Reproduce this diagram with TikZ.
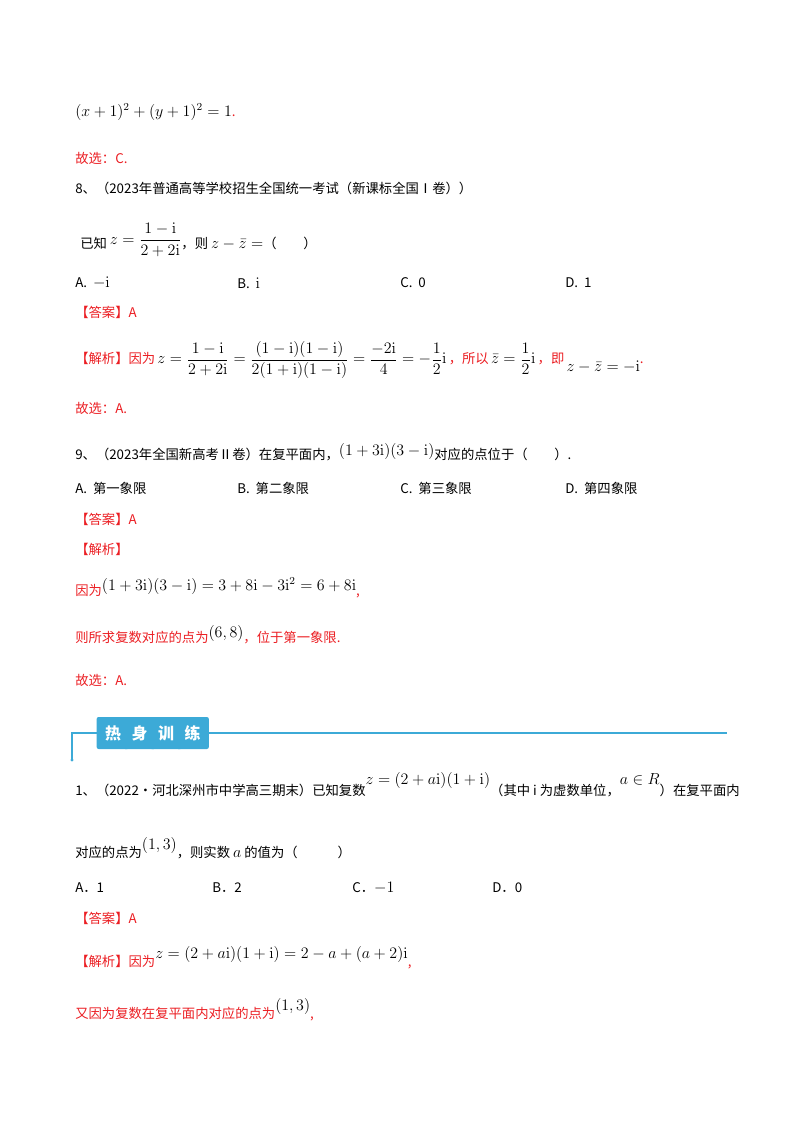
\documentclass[tikz,border=0pt]{standalone}
\usepackage[no-math]{fontspec}
\setmainfont{Noto Sans CJK SC}
\usepackage{amsmath}
\definecolor{rd}{RGB}{235,30,35}
\definecolor{bl}{RGB}{60,170,215}
\newcommand{\mm}[1]{{\fontsize{12}{14}\selectfont$#1$}}
\tikzset{t/.style={anchor=west,inner sep=0pt,font=\fontsize{10}{12}\selectfont},r/.style={t,text=rd}}
\begin{document}
\begin{tikzpicture}[x=0.75pt,y=-0.75pt]
\useasboundingbox (0,0) rectangle (800,1132);
\node[t] (l1) at (75,112) {\mm{(x+1)^2+(y+1)^2=1}\textcolor{rd}{.}};
\node[r] (l2) at (75,158) {故选：C.};
\node[t] (l3) at (75,188) {8、（2023年普通高等学校招生全国统一考试（新课标全国Ⅰ卷））};
\node[t] (l4) at (80,240) {已知\ \raisebox{3pt}{\mm{z=\dfrac{1-\mathrm{i}}{2+2\mathrm{i}}}}，则 \mm{z-\bar z=}（\quad\quad）};
\node[t] (a1) at (75,283) {A.\ \ \mm{-\mathrm{i}}};
\node[t] (b1) at (237,283) {B.\ \ \mm{\mathrm{i}}};
\node[t] (c1) at (400,283) {C.\ \ 0};
\node[t] (d1) at (565,283) {D.\ \ 1};
\node[r] (an1) at (75,312) {【答案】A};
\node[r] (j1) at (75,360) {【解析】因为\,\textcolor{black}{\mm{z=\dfrac{1-\mathrm{i}}{2+2\mathrm{i}}=\dfrac{(1-\mathrm{i})(1-\mathrm{i})}{2(1+\mathrm{i})(1-\mathrm{i})}=\dfrac{-2\mathrm{i}}{4}=-\dfrac{1}{2}\mathrm{i}}}\,，所以\,\textcolor{black}{\mm{\bar z=\dfrac12\mathrm{i}}}\,，即\,\textcolor{black}{\raisebox{-6pt}{\mm{z-\bar z=-\mathrm{i}}}}.};
\node[r] (g1) at (75,408) {故选：A.};
\node[t] (l9) at (75,452) {9、（2023年全国新高考Ⅱ卷）在复平面内，\raisebox{3pt}{\mm{(1+3\mathrm{i})(3-\mathrm{i})}}对应的点位于（\quad\quad）.};
\node[t] (a2) at (75,488) {A.\ \ 第一象限};
\node[t] (b2) at (237,488) {B.\ \ 第二象限};
\node[t] (c2) at (400,488) {C.\ \ 第三象限};
\node[t] (d2) at (565,488) {D.\ \ 第四象限};
\node[r] (an2) at (75,519) {【答案】A};
\node[r] (j2) at (75,549) {【解析】};
\node[r] (k2) at (75,588) {因为\textcolor{black}{\raisebox{4pt}{\mm{(1+3\mathrm{i})(3-\mathrm{i})=3+8\mathrm{i}-3\mathrm{i}^2=6+8\mathrm{i}}}},};
\node[r] (k3) at (75,635) {则所求复数对应的点为\textcolor{black}{\raisebox{4pt}{\mm{(6,8)}}}，位于第一象限.};
\node[r] (g2) at (75,680) {故选：A.};
% banner
\draw[bl,line width=0.8pt] (72,760) -- (72,733) -- (727,733);
\fill[bl] (72,760) circle (1.6);
\foreach \i/\c in {0/热,1/身,2/训,3/练}{
  \node[fill=bl,text=white,minimum width=24.5,minimum height=24,inner sep=0pt,font=\fontsize{12}{12}\selectfont\bfseries,rounded corners=1.5] (h\i) at (113+\i*26.5,733) {\c};
}
\node[t] (q1) at (75,785) {1、（2022·河北深州市中学高三期末）已知复数\raisebox{8pt}{\mm{z=(2+a\mathrm{i})(1+\mathrm{i})}}（其中 i 为虚数单位，\raisebox{8pt}{\mm{a\in R}}）在复平面内};
\node[t] (q2) at (75,848) {对应的点为\raisebox{6pt}{\mm{(1,3)}}，则实数 \mm{a} 的值为（\qquad\quad）};
\node[t] (a3) at (75,888) {A．1};
\node[t] (b3) at (212,888) {B．2};
\node[t] (c3) at (352,888) {C．\mm{-1}};
\node[t] (d3) at (492,888) {D．0};
\node[r] (an3) at (75,918) {【答案】A};
\node[r] (j3) at (75,958) {【解析】因为\textcolor{black}{\raisebox{6pt}{\mm{z=(2+a\mathrm{i})(1+\mathrm{i})=2-a+(a+2)\mathrm{i}}}},};
\node[r] (k4) at (75,1010) {又因为复数在复平面内对应的点为\textcolor{black}{\raisebox{6pt}{\mm{(1,3)}}},};
\end{tikzpicture}
\end{document}
